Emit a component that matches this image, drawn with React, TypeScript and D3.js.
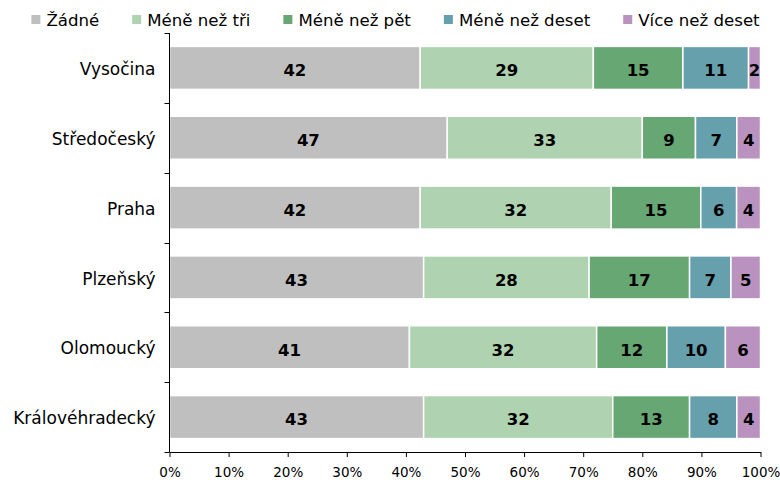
import * as d3 from "d3";
import { useEffect, useRef } from "react";

const regions = ["Vysočina", "Středočeský", "Praha", "Plzeňský", "Olomoucký", "Královéhradecký"];
const seriesNames = ["Žádné", "Méně než tři", "Méně než pět", "Méně než deset", "Více než deset"];
const zadne = [42, 47, 42, 43, 41, 43];
const meneNezTri = [29, 33, 32, 28, 32, 32];
const meneNezPet = [15, 9, 15, 17, 12, 13];
const meneNezDeset = [11, 7, 6, 7, 10, 8];
const viceNezDeset = [2, 4, 4, 5, 6, 4];
const seriesColors = ["#bfbfbf", "#afd2b0", "#67a773", "#67a0ad", "#b992bf"];
const percentTicks = [0, 0.1, 0.2, 0.3, 0.4, 0.5, 0.6, 0.7, 0.8, 0.9, 1];

const FONT = "'DejaVu Sans', Verdana, sans-serif";

export default function App() {
  const ref = useRef<SVGSVGElement>(null);

  useEffect(() => {
    document.body.style.margin = "0";
    if (!ref.current) return;
    const svg = d3.select(ref.current);
    svg.selectAll("*").remove();

    const width = 780;
    const height = 480;
    const margin = { top: 33, right: 19.5, bottom: 28, left: 169.5 };

    // build rows for the stack from the named arrays
    const allSeries = [zadne, meneNezTri, meneNezPet, meneNezDeset, viceNezDeset];
    const rows = regions.map((r, i) => {
      const row: any = { region: r };
      seriesNames.forEach((s, j) => (row[s] = allSeries[j][i]));
      return row;
    });

    const stack = d3.stack().keys(seriesNames).offset(d3.stackOffsetExpand);
    const stacked = stack(rows);

    const x = d3.scaleLinear().domain([0, 1]).range([margin.left, width - margin.right]);
    const y = d3
      .scaleBand()
      .domain(regions)
      .range([margin.top, height - margin.bottom])
      .paddingInner(0.384)
      .paddingOuter(0.192);

    const color = d3.scaleOrdinal<string>().domain(seriesNames).range(seriesColors);

    // bars
    const layers = svg
      .append("g")
      .selectAll("g")
      .data(stacked)
      .join("g")
      .attr("fill", (d) => color(d.key));

    layers
      .selectAll("rect")
      .data((d) => d.map((v) => ({ v, key: d.key })))
      .join("rect")
      .attr("x", (d: any) => x(d.v[0]))
      .attr("y", (d: any) => y(d.v.data.region)!)
      .attr("width", (d: any) => x(d.v[1]) - x(d.v[0]))
      .attr("height", y.bandwidth())
      .attr("stroke", "#ffffff")
      .attr("stroke-width", 1.5);

    // value labels
    layers
      .selectAll("text")
      .data((d) => d.map((v) => ({ v, key: d.key })))
      .join("text")
      .attr("x", (d: any) => (x(d.v[0]) + x(d.v[1])) / 2)
      .attr("y", (d: any) => y(d.v.data.region)! + y.bandwidth() / 2)
      .attr("dy", "0.5em")
      .attr("text-anchor", "middle")
      .attr("fill", "#000")
      .style("font-family", FONT)
      .style("font-size", "16.5px")
      .style("font-weight", "bold")
      .text((d: any) => d.v.data[d.key]);

    // x axis
    const xAxis = svg
      .append("g")
      .attr("transform", `translate(0,${height - margin.bottom})`)
      .call(
        d3
          .axisBottom(x)
          .tickValues(percentTicks)
          .tickFormat(d3.format(".0%") as any)
          .tickSize(5)
          .tickSizeOuter(0)
      );
    xAxis.select(".domain").attr("stroke", "#000");
    xAxis.selectAll(".tick line").attr("stroke", "#000");
    xAxis
      .selectAll(".tick text")
      .attr("y", 25)
      .attr("dy", null)
      .attr("fill", "#000")
      .style("font-family", FONT)
      .style("font-size", "13.5px");

    // y axis: line with ticks on the band boundaries
    const yAxis = svg.append("g");
    const x0 = x(0);
    yAxis
      .append("line")
      .attr("x1", x0)
      .attr("x2", x0)
      .attr("y1", margin.top)
      .attr("y2", height - margin.bottom)
      .attr("stroke", "#000");
    const boundaries = d3.range(regions.length + 1).map((i) => margin.top + i * y.step());
    yAxis
      .selectAll("line.tick")
      .data(boundaries)
      .join("line")
      .attr("class", "tick")
      .attr("x1", x0 - 5)
      .attr("x2", x0)
      .attr("y1", (d) => Math.round(d) + 0.5)
      .attr("y2", (d) => Math.round(d) + 0.5)
      .attr("stroke", "#000");
    yAxis
      .selectAll("text")
      .data(regions)
      .join("text")
      .attr("x", x0 - 14)
      .attr("y", (d) => y(d)! + y.bandwidth() / 2)
      .attr("dy", "0.42em")
      .attr("text-anchor", "end")
      .attr("fill", "#000")
      .style("font-family", FONT)
      .style("font-size", "17px")
      .text((d) => d);

    // legend, laid out by measured text widths
    const legend = svg.append("g");
    const items = legend
      .selectAll("g")
      .data(seriesNames)
      .join("g");
    items
      .append("rect")
      .attr("width", 9)
      .attr("height", 9)
      .attr("y", 15)
      .attr("fill", (d) => color(d));
    items
      .append("text")
      .attr("x", 15)
      .attr("y", 25.5)
      .attr("fill", "#000")
      .style("font-family", FONT)
      .style("font-size", "16.6px")
      .text((d) => d);
    let cursor = 0;
    const gap = 33;
    items.each(function () {
      const g = d3.select(this);
      const w = 15 + (g.select("text").node() as SVGTextElement).getComputedTextLength();
      g.attr("transform", `translate(${cursor},0)`);
      cursor += w + gap;
    });
    const total = cursor - gap;
    legend.attr("transform", `translate(${395.5 - total / 2},0)`);
  }, []);

  return <svg ref={ref} width={780} height={480} style={{ display: "block" }} />;
}
